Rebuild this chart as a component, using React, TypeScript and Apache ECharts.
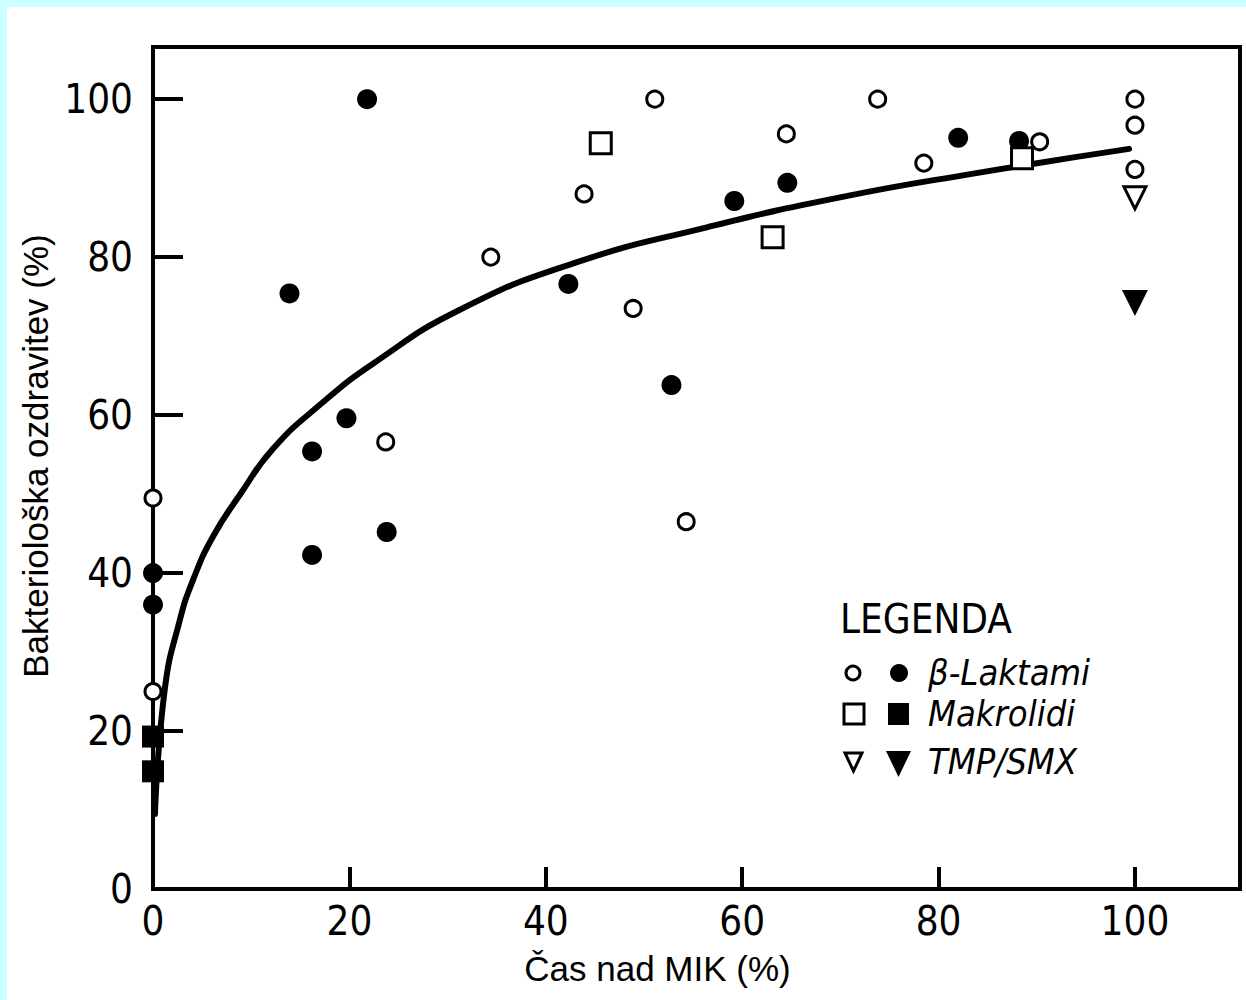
import React, { useEffect, useRef } from "react";
import * as echarts from "echarts";

// ---- data ----
const groupNames = ["β-Laktami", "Makrolidi", "TMP/SMX"];

// β-laktami, open circles
const betaOpen: number[][] = [
  [0, 49.5], [0, 25], [23.7, 56.6], [34.4, 80], [43.9, 88], [48.9, 73.5],
  [51.1, 100], [54.3, 46.5], [64.5, 95.6], [73.8, 100], [78.5, 91.9],
  [90.3, 94.6], [100, 100], [100, 96.7], [100, 91.1],
];
// β-laktami, filled circles
const betaFilled: number[][] = [
  [21.8, 100], [13.9, 75.4], [16.2, 42.3], [16.2, 55.4], [19.7, 59.6],
  [23.8, 45.2], [42.3, 76.6], [52.8, 63.8], [59.2, 87.1], [64.6, 89.4],
  [82, 95.1], [88.2, 94.7], [0, 40], [0, 36],
];
// makrolidi
const macroOpen: number[][] = [[45.6, 94.4], [63.1, 82.5], [88.5, 92.5]];
const macroFilled: number[][] = [[0, 19.3], [0, 14.9]];
// TMP/SMX
const tmpOpen: number[][] = [[100, 87.5]];
const tmpFilled: number[][] = [[100, 74.2]];

// fitted curve, points
const curveX = [0.2, 1.2, 2.7, 4.1, 6.1, 8.9, 12.2, 17, 22.4, 31.2, 42.8, 56.5, 70.1, 83.7, 99.4];
const curveY = [9.5, 25.3, 33.9, 39.2, 44.6, 50, 55.7, 61.3, 66.5, 73.3, 79.2, 83.8, 87.6, 90.6, 93.7];

const xTitle = "Čas nad MIK (%)";
const yTitle = "Bakteriološka ozdravitev (%)";
const legendTitle = "LEGENDA";

const NARROW = '"Liberation Sans Narrow", "DejaVu Sans Condensed", "Liberation Sans", sans-serif';
const SANS = '"Liberation Sans", Arial, sans-serif';

export default function App() {
  const ref = useRef<HTMLDivElement>(null);
  useEffect(() => {
    if (!ref.current) return;
    const chart = echarts.init(ref.current, undefined, { renderer: "svg" });

    const openStyle = { color: "#fff", borderColor: "#000", borderWidth: 3, opacity: 1 };
    const fillStyle = { color: "#000", opacity: 1 };

    const legendRows = [673, 714, 762];
    const legendGraphics: any[] = [
      { type: "text", left: 840, top: 599, style: { text: legendTitle, font: `40px ${NARROW}`, fill: "#000" } },
      { type: "circle", shape: { cx: 853, cy: legendRows[0], r: 7 }, style: { fill: "#fff", stroke: "#000", lineWidth: 3 } },
      { type: "circle", shape: { cx: 899, cy: legendRows[0], r: 9 }, style: { fill: "#000" } },
      { type: "rect", shape: { x: 844, y: legendRows[1] - 10, width: 20, height: 20 }, style: { fill: "#fff", stroke: "#000", lineWidth: 3 } },
      { type: "rect", shape: { x: 888, y: legendRows[1] - 11, width: 21, height: 22 }, style: { fill: "#000" } },
      { type: "polygon", shape: { points: [[845, legendRows[2] - 9], [862, legendRows[2] - 9], [853.5, legendRows[2] + 9]] }, style: { fill: "#fff", stroke: "#000", lineWidth: 3 } },
      { type: "polygon", shape: { points: [[886, legendRows[2] - 11], [911, legendRows[2] - 11], [898.5, legendRows[2] + 15]] }, style: { fill: "#000" } },
    ];
    groupNames.forEach((n, i) => {
      legendGraphics.push({
        type: "text",
        left: 928,
        top: legendRows[i] - 19,
        style: { text: n, font: `italic 36px ${NARROW}`, fill: "#000" },
      });
    });

    chart.setOption({
      animation: false,
      backgroundColor: "#ffffff",
      graphic: [
        { type: "rect", silent: true, shape: { x: 0, y: 0, width: 1246, height: 7 }, style: { fill: "#ccffff" } },
        { type: "rect", silent: true, shape: { x: 0, y: 0, width: 7, height: 1000 }, style: { fill: "#ccffff" } },
        ...legendGraphics,
      ],
      grid: {
        left: 153, right: 6, top: 47, bottom: 111,
        show: true, borderColor: "#000", borderWidth: 4, backgroundColor: "transparent",
      },
      xAxis: {
        type: "value", min: 0, max: 110.7, interval: 20,
        axisLine: { show: true, lineStyle: { color: "#000", width: 4 } },
        axisTick: { show: true, inside: true, length: 22, lineStyle: { color: "#000", width: 4 } },
        splitLine: { show: false },
        axisLabel: { showMaxLabel: false, color: "#000", fontSize: 40, fontFamily: NARROW, margin: 12 },
        name: xTitle, nameLocation: "middle", nameGap: 62,
        nameTextStyle: { color: "#000", fontSize: 35, fontFamily: SANS, padding: [0, 78, 0, 0] },
      },
      yAxis: {
        type: "value", min: 0, max: 106.6, interval: 20,
        axisLine: { show: true, lineStyle: { color: "#000", width: 4 } },
        axisTick: { show: true, inside: true, length: 30, lineStyle: { color: "#000", width: 4 } },
        splitLine: { show: false },
        axisLabel: { showMaxLabel: false, color: "#000", fontSize: 40, fontFamily: NARROW, margin: 20 },
        name: yTitle, nameLocation: "middle", nameGap: 90,
        nameTextStyle: { color: "#000", fontSize: 35, fontFamily: SANS, padding: [0, 0, 0, 24] },
      },
      series: [
        {
          type: "line", name: "fit", data: curveX.map((x, i) => [x, curveY[i]]),
          showSymbol: false, smooth: 0.5,
          lineStyle: { color: "#000", width: 6, cap: "round" }, z: 2,
        },
        { type: "scatter", name: groupNames[0], data: betaOpen, symbol: "circle", symbolSize: 16, itemStyle: openStyle, z: 3 },
        { type: "scatter", name: groupNames[0], data: betaFilled, symbol: "circle", symbolSize: 20, itemStyle: fillStyle, z: 3 },
        { type: "scatter", name: groupNames[1], data: macroOpen, symbol: "rect", symbolSize: 21, itemStyle: openStyle, z: 3 },
        { type: "scatter", name: groupNames[1], data: macroFilled, symbol: "rect", symbolSize: 22, itemStyle: fillStyle, z: 3 },
        { type: "scatter", name: groupNames[2], data: tmpOpen, symbol: "triangle", symbolRotate: 180, symbolSize: 22, itemStyle: openStyle, z: 3 },
        { type: "scatter", name: groupNames[2], data: tmpFilled, symbol: "triangle", symbolRotate: 180, symbolSize: 26, itemStyle: fillStyle, z: 3 },
      ],
    });
    return () => chart.dispose();
  }, []);

  return (
    <div style={{ position: "fixed", left: 0, top: 0, width: 1246, height: 1000 }}>
      <div ref={ref} style={{ width: 1246, height: 1000 }} />
    </div>
  );
}
